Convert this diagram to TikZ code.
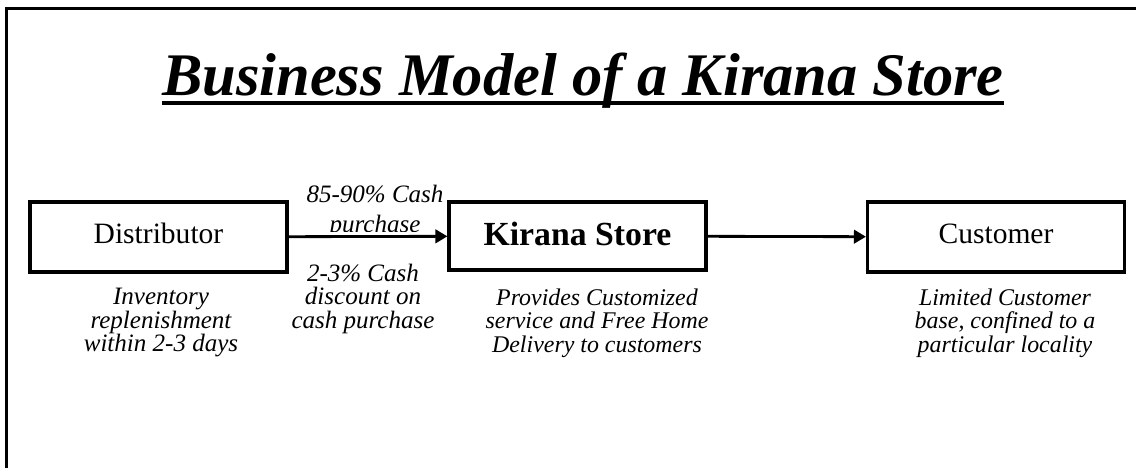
\documentclass[tikz,border=0pt]{standalone}
\usepackage{fontspec}
\setmainfont{Liberation Serif}
\usetikzlibrary{arrows.meta}
\tikzset{
  partybox/.style={draw, line width=2.2pt, inner sep=0pt, minimum width=182.8pt,
                   text height=29.2pt, text depth=20.6pt, font=\fontsize{21}{24}\selectfont},
  remark/.style={inner sep=0pt, align=center, font=\itshape\fontsize{17.8}{16.6}\selectfont},
  small remark/.style={remark, font=\itshape\fontsize{17}{16.6}\selectfont},
  flow/.style={line width=2pt, -{Triangle[length=8.5pt,width=9.5pt]}},
}
\begin{document}
\begin{tikzpicture}[x=0.025cm, y=-0.025cm]
\useasboundingbox (0,0) rectangle (1136,468);
\draw[line width=2.3pt] (6.5,468) -- (6.5,8.5) -- (1136,8.5);
% title
\node[inner sep=0pt, anchor=base, font=\bfseries\itshape\fontsize{43}{50}\selectfont]
    (title) at (583,95) {Business Model of a Kirana Store};
\draw[line width=2.8pt] ([yshift=-6pt]title.base west) -- ([yshift=-6pt]title.base east);
% boxes
\foreach \n/\x/\t in {dist/158.5/Distributor, cust/996/Customer}
    \node[partybox] (\n) at (\x, 237) {\t};
\node[partybox, text height=30.6pt, text depth=17.8pt, font=\bfseries\fontsize{24}{28}\selectfont]
    (kirana) at (577.5, 236) {Kirana Store};
\draw[flow] (dist) -- (kirana);
\draw[flow] (kirana) -- (cust);
% notes
\begin{scope}
\clip (290,150) rectangle (445,231);
\node[remark, anchor=north, font=\itshape\fontsize{17.8}{21}\selectfont]
    (buy) at (375,185) {85-90\% Cash\\purchase};
\end{scope}
\node[remark, anchor=north] (disc) at (363,264) {2-3\% Cash\\discount on\\cash purchase};
\node[remark, anchor=north] (dist-note) at (161,288) {Inventory\\replenishment\\within 2-3 days};
\foreach \n/\x/\t in {kirana-note/597/{Provides Customized\\service and Free Home\\Delivery to customers},
                      cust-note/1005/{Limited Customer\\base, confined to a\\particular locality}}
    \node[small remark, anchor=north] (\n) at (\x, 288.5) {\t};
\end{tikzpicture}
\end{document}
